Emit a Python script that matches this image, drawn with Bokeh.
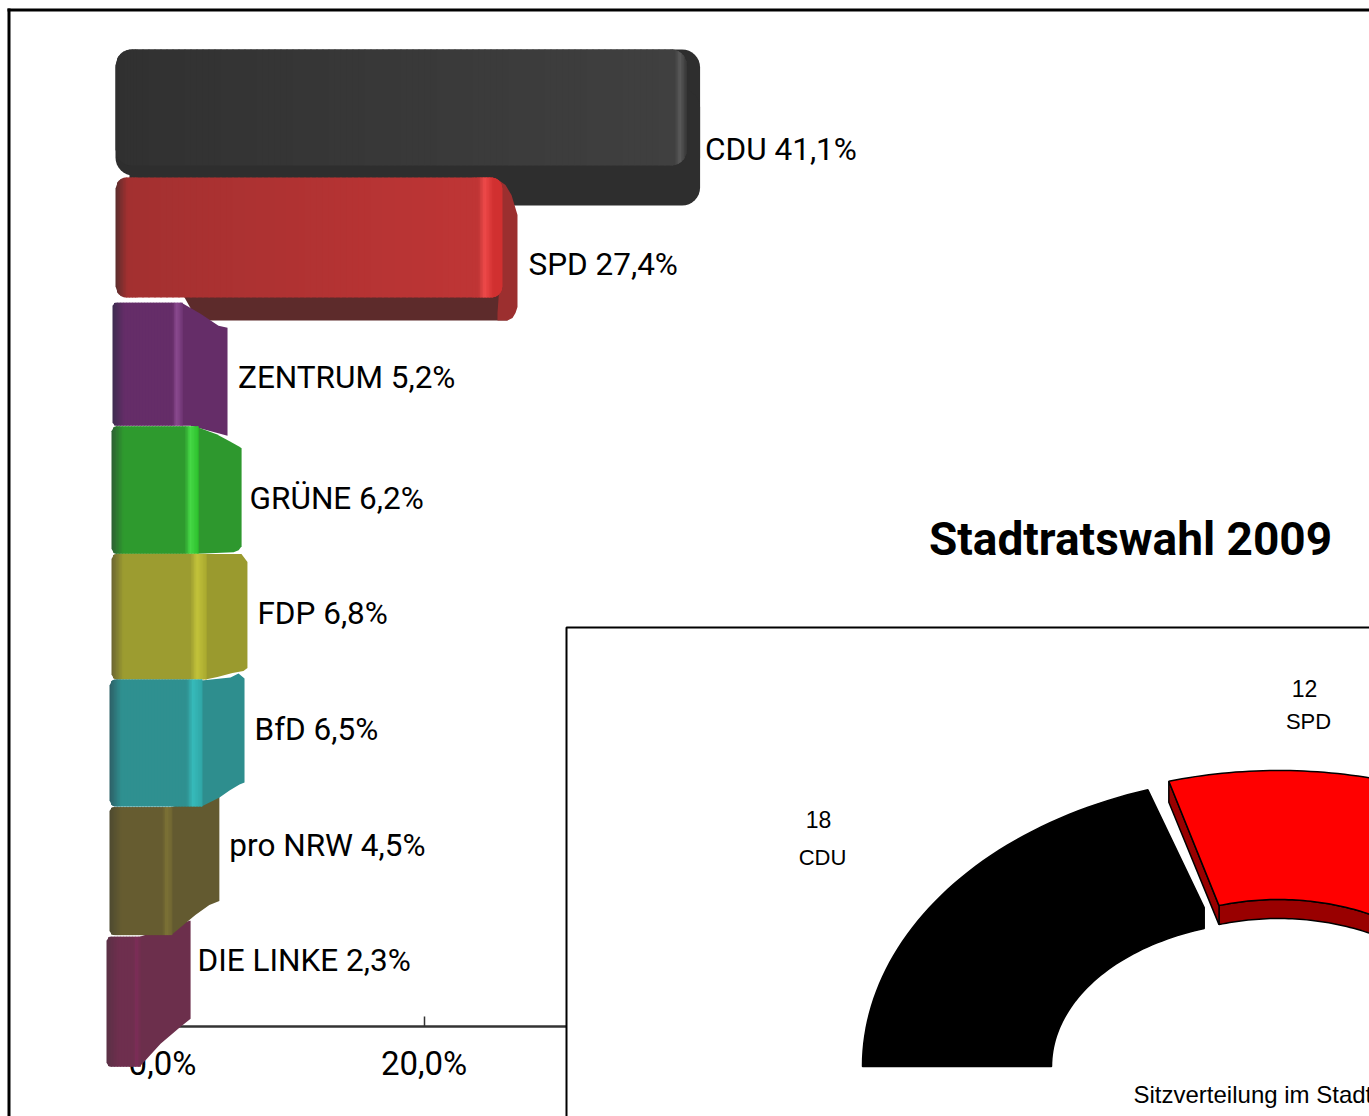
import math
from bokeh.embed import file_html
from bokeh.resources import INLINE
from bokeh.plotting import figure
from bokeh.models import Range1d, FixedTicker, ColumnDataSource
from bokeh.core.properties import value

# ---- data -------------------------------------------------------------
parties = ["CDU", "SPD", "ZENTRUM", "GRÜNE", "FDP", "BfD", "pro NRW", "DIE LINKE"]
shares = [41.1, 27.4, 5.2, 6.2, 6.8, 6.5, 4.5, 2.3]
axis_ticks = [0, 20, 40]
axis_labels = ["0,0%", "20,0%", "40,0%"]
seat_parties = ["CDU", "SPD"]
seat_counts = [18, 12]
title_text = "Stadtratswahl 2009"
subtitle_text = "Sitzverteilung im Stadtrat"

# ---- scales (page pixels <-> data) -------------------------------------
W, H = 1369, 1116
PX_PER_PCT, ZERO_PX = 13.08, 162.0
PX_PER_CAT, FIRST_PX = 115.6, 149.0
FONT = "Roboto"
SMALL_FONT = "Liberation Sans"
LEVEL = "overlay"

def xr(px):
    return (px - ZERO_PX) / PX_PER_PCT

def yr(px):
    return (px - FIRST_PX) / PX_PER_CAT

def rrect(x0, y0, x1, y1, r, n=8):
    pts = []
    for cx, cy, a0 in ((x0 + r, y0 + r, 180), (x1 - r, y0 + r, 270), (x1 - r, y1 - r, 0), (x0 + r, y1 - r, 90)):
        for k in range(n + 1):
            a = math.radians(a0 + 90 * k / n)
            pts.append((cx + r * math.cos(a), cy + r * math.sin(a)))
    return pts

# ---- look of each bar (pixel offsets from bar end and category centre) --
STYLE = {
 "CDU": dict(adj=0, L=-47, T=-100, B=16, fr=-13, hi=(-25, -13), r=16, label=5, dy=0, round_right=True,
             edge="#2f2f2f", fl="#313131", fr_c="#404040", hc="#5a5a5a", h2="#333333",
             sides=[(("R", -100, 26, 18), "#2e2e2e"), (("R2", -60, 56, 18), "#2e2e2e")]),
 "SPD": dict(adj=-3.4, L=-47, T=-87.6, B=32.4, fr=-15, hi=(-39, -24), r=11, label=11, dy=-1, round_right=True,
             edge="#5a2d2d", fl="#a33030", fr_c="#bf3535", hc="#ee4a4a", h2="#d13030",
             sides=[([(-340, 20), (-10, 20), (-10, 55.4), (-320, 55.4)], "#5d2b2b"),
                    ([(-40, -87.6), (-27, -87.6), (-19, -85), (-12, -80), (-6, -70), (-3, -60), (0, -50), (0, 42),
                      (-2, 48), (-5, 53), (-10, 55.4), (-20, 55.4), (-20, 48), (-18, 20)], "#9c2f2f")]),
 "ZENTRUM": dict(adj=-3, L=-50, T=-78, B=45, fr=-45, hi=(-55, -45), r=3, label=10.5, dy=-3, round_right=False,
             edge="#3d2c50", fl="#652d68", fr_c="#652d68", hc="#8b4a90", h2="#6f3573",
             sides=[([(-46, -78), (-27, -67), (-9, -55), (0, -53), (0, 55), (-37, 45), (-46, 45)], "#652d68")]),
 "GRÜNE": dict(adj=-2, L=-51, T=-70, B=57.5, fr=-43, hi=(-57, -43), r=5, label=8, dy=2, round_right=False,
             edge="#2c5f33", fl="#2e9a2e", fr_c="#2e9a2e", hc="#46d846", h2="#2cc02c",
             sides=[([(-44, -69), (-25, -62), (-12, -55), (-3, -50), (0, -48), (0, 50), (-3, 54), (-8, 56), (-44, 57.5)], "#2e982e")]),
 "FDP": dict(adj=-4, L=-51, T=-58, B=67.5, fr=-41, hi=(-57, -41), r=5, label=10, dy=2, round_right=False,
             edge="#6b6530", fl="#9c9c30", fr_c="#9c9c30", hc="#c3c33a", h2="#a9a92f",
             sides=[([(-42, -58), (-6, -58), (0, -50), (0, 56), (-4, 59), (-15, 61), (-30, 65), (-42, 67.5)], "#9a9a2e")]),
 "BfD": dict(adj=-3, L=-53, T=-48, B=79, fr=-42, hi=(-58, -42), r=6, label=10, dy=2, round_right=False,
             edge="#2d5f66", fl="#2f9090", fr_c="#2f9090", hc="#36baba", h2="#30a5a5",
             sides=[([(-43, -47), (-14, -50), (-6, -54), (0, -49), (0, 55), (-5, 57), (-15, 63), (-25, 70), (-43, 79)], "#2e8e8e")]),
 "pro NRW": dict(adj=-2, L=-53, T=-36, B=92, fr=-47, hi=(-57, -47), r=4, label=10, dy=2, round_right=False,
             edge="#4d4a30", fl="#665c30", fr_c="#665c30", hc="#7c7235", h2="#6e6432",
             sides=[([(-48, -36), (0, -50), (0, 58), (-10, 62), (-24, 72), (-48, 92)], "#635a30")]),
 "DIE LINKE": dict(adj=-2, L=-56, T=-22, B=108, fr=-50, hi=(-57, -50), r=4, label=7, dy=2, round_right=False,
             edge="#5a3045", fl="#6e2f4e", fr_c="#6e2f4e", hc="#7d2d58", h2="#6e2f4e",
             sides=[([(-51, -22), (-1, -38), (0, -38), (0, 60), (-10, 68), (-30, 85), (-51, 108)], "#6c2f4c")]),
}
DRAW_ORDER = ["CDU", "SPD", "ZENTRUM", "GRÜNE", "FDP", "DIE LINKE", "pro NRW", "BfD"]

def hex2rgb(c):
    return tuple(int(c[i:i + 2], 16) for i in (1, 3, 5))

def mix(a, b, t):
    t = max(0.0, min(1.0, t))
    ca, cb = hex2rgb(a), hex2rgb(b)
    return "#%02x%02x%02x" % tuple(round(ca[k] + (cb[k] - ca[k]) * t) for k in range(3))

p = figure(width=W, height=H, toolbar_location=None, output_backend="svg",
           x_range=Range1d(xr(0), xr(W)), y_range=Range1d(yr(H), yr(0)),
           y_axis_location=None, min_border=0, outline_line_color=None,
           background_fill_color="white", border_fill_color="white")
p.extra_x_ranges = {"px": Range1d(0, W)}
p.extra_y_ranges = {"px": Range1d(H, 0)}
p.grid.visible = False

# ---- value axis ---------------------------------------------------------
ax = p.xaxis[0]
ax.fixed_location = yr(1026)
ax.bounds = (axis_ticks[0], axis_ticks[-1])
ax.ticker = FixedTicker(ticks=axis_ticks)
ax.major_label_overrides = dict(zip(axis_ticks, axis_labels))
ax.axis_line_color = "#333333"
ax.axis_line_width = 2.5
ax.major_tick_line_color = "#333333"
ax.major_tick_line_width = 1.5
ax.major_tick_in = 10
ax.major_tick_out = 0
ax.minor_tick_line_color = None
ax.major_label_standoff = 17
ax.major_label_text_font = FONT
ax.major_label_text_font_size = "33px"
ax.major_label_text_color = "black"

# ---- frame rules --------------------------------------------------------
p.segment(x0=[8.5, 7], y0=[8, 9.5], x1=[8.5, W], y1=[H, 9.5], x_range_name="px", y_range_name="px",
          line_color="black", line_width=3)

# ---- bars ---------------------------------------------------------------
xs, ys, cols = [], [], []

def add(poly, color):
    xs.append([q[0] for q in poly])
    ys.append([q[1] for q in poly])
    cols.append(color)

for name in DRAW_ORDER:
    i = parties.index(name)
    v = shares[i]
    s = STYLE[name]
    end_px = s["adj"]
    X = lambda dx: v + (end_px + dx) / PX_PER_PCT
    Y = lambda dy: i + dy / PX_PER_CAT
    x_left_off = s["L"] - (v * PX_PER_PCT + end_px)
    for pts, c in s["sides"]:
        if pts[0] == "R":
            poly = rrect(x_left_off, pts[1], 0, pts[2], pts[3])
        elif pts[0] == "R2":
            poly = rrect(x_left_off + 14, pts[1], 0, pts[2], pts[3])
        else:
            poly = pts
        add([(X(a), Y(b)) for a, b in poly], c)
    # front face as vertical strips, each overlapping the next
    x_right_off = s["fr"]
    width = x_right_off - x_left_off
    r = s["r"]
    h0, h1 = s["hi"]
    step = 6.0 if width > 200 else 1.5
    def inset(t):
        d = t - x_left_off
        if s["round_right"]:
            d = min(d, x_right_off - t)
        if d >= r:
            return 0.0
        return r - math.sqrt(max(0.0, r * r - (r - d) ** 2))
    def colour(t):
        d = t - x_left_off
        if d < 12:
            return mix(s["edge"], s["fl"], d / 12)
        if t < h0:
            return mix(s["fl"], s["fr_c"], (t - x_left_off - 12) / max(1.0, h0 - x_left_off - 12))
        if t < h1:
            mid = h0 + (h1 - h0) * 0.4
            if t < mid:
                return mix(s["fr_c"], s["hc"], (t - h0) / max(1.0, mid - h0))
            return mix(s["hc"], s["h2"], (t - mid) / max(1.0, h1 - mid))
        return s["h2"]
    # edge strips are finer than the long middle of a wide bar
    cuts = [x_left_off]
    while cuts[-1] < x_right_off:
        t = cuts[-1]
        near = t - x_left_off < 20 or t > h0 - 6
        cuts.append(min(x_right_off, t + (1.5 if near else step)))
    for a, b in zip(cuts[:-1], cuts[1:]):
        b2 = min(x_right_off, b + 1)
        ia, ib = inset(a), inset(b2)
        add([(X(a), Y(s["T"] + ia)), (X(b2), Y(s["T"] + ib)), (X(b2), Y(s["B"] - ib)), (X(a), Y(s["B"] - ia))],
            colour((a + b) / 2))

src = ColumnDataSource(dict(xs=xs, ys=ys, c=cols))
p.patches("xs", "ys", source=src, fill_color="c", line_color=None, level=LEVEL)

# ---- bar labels ---------------------------------------------------------
lab_x = [v + (STYLE[n]["adj"] + STYLE[n]["label"]) / PX_PER_PCT for n, v in zip(parties, shares)]
lab_y = [k + STYLE[n]["dy"] / PX_PER_CAT for k, n in enumerate(parties)]
lab_t = [f"{n} {v:.1f}%".replace(".", ",") for n, v in zip(parties, shares)]
p.text(lab_x, lab_y, text=lab_t, text_font=value(FONT), text_font_size=value("31.5px"),
       text_baseline="middle", text_align="left", text_color="black", level=LEVEL)

# ---- title and inset panel ---------------------------------------------
p.text([1130], [538], text=[title_text], x_range_name="px", y_range_name="px",
       text_font=value(FONT), text_font_style="bold", text_font_size=value("46px"),
       text_baseline="middle", text_align="center", text_color="black", level=LEVEL)
p.quad(left=[566], right=[1500], top=[627], bottom=[1300], x_range_name="px", y_range_name="px",
       fill_color="white", line_color="black", line_width=2, level=LEVEL)

DEG_PER_SEAT = 4.0

def arc(cx, cy, rx, ry, a0, a1, n=48):
    return [(cx + rx * math.cos(math.radians(a0 + (a1 - a0) * k / n)),
             cy - ry * math.sin(math.radians(a0 + (a1 - a0) * k / n))) for k in range(n + 1)]

def draw(poly, fill):
    p.patch([q[0] for q in poly], [q[1] for q in poly], x_range_name="px", y_range_name="px",
            fill_color=fill, line_color="black", line_width=1.5, level=LEVEL)

start_c = 180.0
end_c = start_c - seat_counts[0] * DEG_PER_SEAT
c_out = arc(1275, 1066, 413, 291, start_c, end_c)
c_in = arc(1272, 1066, 221, 145, end_c, start_c)
draw(c_out + [(c_in[0][0], c_in[0][1] - 21)] + c_in, "#000000")

start_s = end_c - 2.6
end_s = end_c - seat_counts[1] * DEG_PER_SEAT
outer = arc(1278, 1069, 413, 299, start_s, end_s)
inner = arc(1278, 1069, 224, 170, end_s, start_s)
depth = 19
inner_low = [(a, b + depth) for a, b in inner]
draw(inner + inner_low[::-1], "#990000")
draw([outer[0], inner[-1], inner_low[-1], (outer[0][0], outer[0][1] + depth + 2)], "#990000")
draw(outer + inner, "#ff0000")

p.text([818, 1304], [819, 688], text=[str(n) for n in seat_counts], x_range_name="px", y_range_name="px",
       text_font=value(SMALL_FONT), text_font_size=value("23px"), text_baseline="middle",
       text_align="center", text_color="black", level=LEVEL)
p.text([822, 1308], [857, 721], text=seat_parties, x_range_name="px", y_range_name="px",
       text_font=value(SMALL_FONT), text_font_size=value("22px"), text_baseline="middle",
       text_align="center", text_color="black", level=LEVEL)
p.text([1133], [1094], text=[subtitle_text], x_range_name="px", y_range_name="px",
       text_font=value(SMALL_FONT), text_font_size=value("24px"), text_baseline="middle",
       text_align="left", text_color="black", level=LEVEL)

open("out.html", "w").write(file_html(p, INLINE))
